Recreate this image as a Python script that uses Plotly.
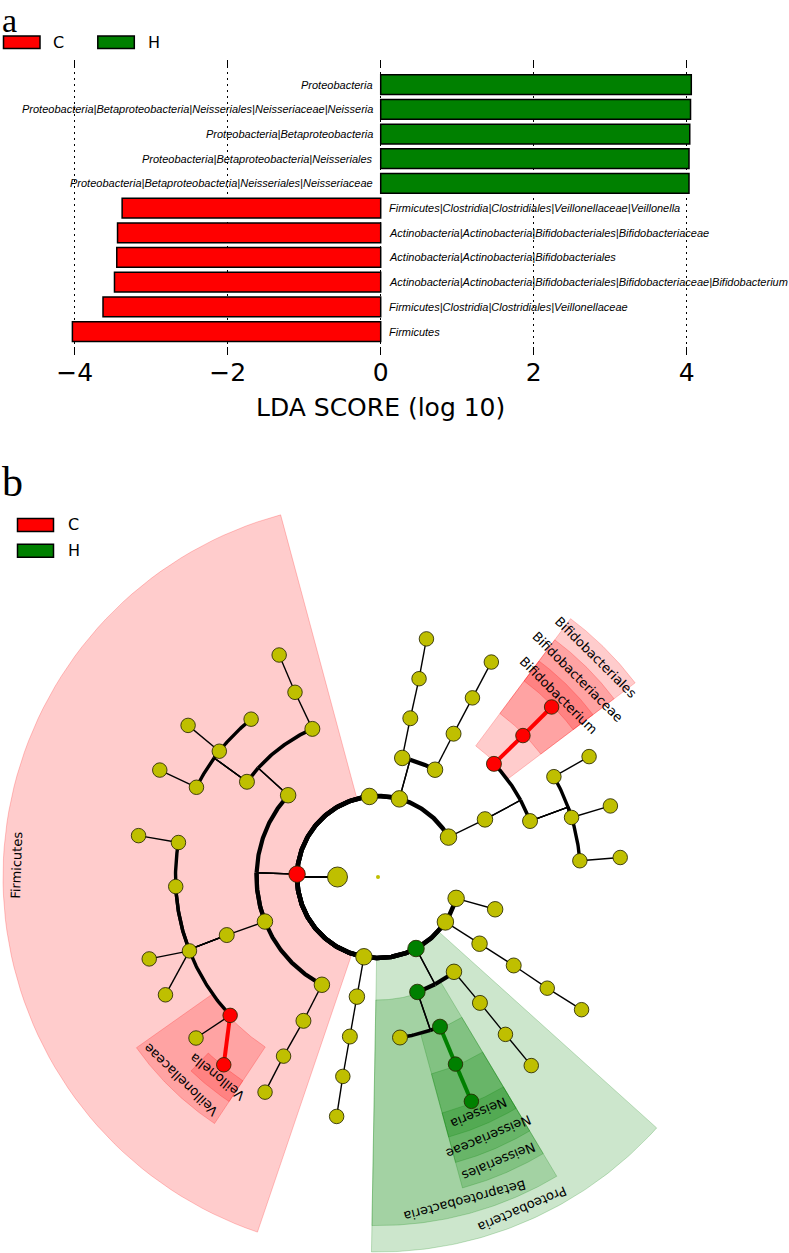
import numpy as np
import plotly.graph_objects as go

# ------------------------- panel a : LDA scores -------------------------
lda_taxa = [
    "Proteobacteria",
    "Proteobacteria|Betaproteobacteria|Neisseriales|Neisseriaceae|Neisseria",
    "Proteobacteria|Betaproteobacteria",
    "Proteobacteria|Betaproteobacteria|Neisseriales",
    "Proteobacteria|Betaproteobacteria|Neisseriales|Neisseriaceae",
    "Firmicutes|Clostridia|Clostridiales|Veillonellaceae|Veillonella",
    "Actinobacteria|Actinobacteria|Bifidobacteriales|Bifidobacteriaceae",
    "Actinobacteria|Actinobacteria|Bifidobacteriales",
    "Actinobacteria|Actinobacteria|Bifidobacteriales|Bifidobacteriaceae|Bifidobacterium",
    "Firmicutes|Clostridia|Clostridiales|Veillonellaceae",
    "Firmicutes",
]
lda_scores = [4.06, 4.05, 4.04, 4.03, 4.03, -3.38, -3.44, -3.45, -3.48, -3.63, -4.03]
lda_class = ["H", "H", "H", "H", "H", "C", "C", "C", "C", "C", "C"]
lda_ticks = [-4, -2, 0, 2, 4]
groups = ["C", "H"]

# ------------------------- panel b : cladogram -------------------------
# one entry per node: name, parent index, taxonomic level, angle (deg), enriched class
node_name = [
    "root", "Bacteria",
    "Actinobacteria", "", "", "Firmicutes", "", "Proteobacteria", "", "",
    "Actinobacteria", "", "", "", "Clostridia", "", "", "Betaproteobacteria", "", "", "",
    "Bifidobacteriales", "", "", "", "", "", "Clostridiales", "", "", "Neisseriales", "", "", "",
    "Bifidobacteriaceae", "", "", "", "", "", "", "", "", "", "", "", "", "Veillonellaceae",
    "", "", "Neisseriaceae", "", "",
    "Bifidobacterium", "", "", "", "", "", "", "", "", "", "", "", "", "Veillonella",
    "", "", "Neisseria", "", "",
]
node_parent = [
    -1, 0,
    1, 1, 1, 1, 1, 1, 1, 1,
    2, 3, 3, 5, 5, 5, 6, 7, 7, 8, 9,
    10, 10, 11, 12, 13, 13, 14, 15, 16, 17, 17, 18, 19,
    21, 22, 22, 22, 23, 24, 25, 26, 26, 26, 27, 27, 27, 27, 28, 29, 30, 32, 33,
    34, 35, 36, 37, 38, 39, 40, 42, 43, 44, 46, 46, 47, 47, 48, 49, 50, 51, 52,
]
node_level = [
    0, 1,
    2, 2, 2, 2, 2, 2, 2, 2,
    3, 3, 3, 3, 3, 3, 3, 3, 3, 3, 3,
    4, 4, 4, 4, 4, 4, 4, 4, 4, 4, 4, 4, 4,
    5, 5, 5, 5, 5, 5, 5, 5, 5, 5, 5, 5, 5, 5, 5, 5, 5, 5, 5,
    6, 6, 6, 6, 6, 6, 6, 6, 6, 6, 6, 6, 6, 6, 6, 6, 6, 6, 6,
]
node_angle = [
    0.0, 180.0,
    29.5, 74.7, 96.1, 178.0, 260.0, 298.0, 326.3, 344.7,
    28.3, 78.5, 62.0, 137.7, 201.5, 242.5, 260.0, 288.9, 308.7, 326.7, 344.6,
    44.3, 20.2, 78.5, 62.2, 113.9, 144.0, 201.0, 242.6, 260.0, 292.5, 277.8, 309.0, 326.9,
    44.3, 29.7, 17.1, 4.6, 78.3, 62.2, 114.2, 128.8, 141.6, 153.7, 170.2, 182.7, 201.4,
    223.1, 242.2, 260.0, 292.5, 309.0, 326.7,
    44.4, 29.7, 17.0, 4.6, 78.5, 62.2, 114.0, 141.4, 153.9, 170.2, 199.7, 209.0, 221.5,
    230.6, 242.3, 260.2, 292.6, 309.1, 326.9,
]
node_class = [
    "", "",
    "", "", "", "C", "", "H", "", "",
    "", "", "", "", "", "", "", "H", "", "", "",
    "C", "", "", "", "", "", "", "", "", "H", "", "", "",
    "C", "", "", "", "", "", "", "", "", "", "", "", "", "C", "", "", "H", "", "",
    "C", "", "", "", "", "", "", "", "", "", "", "", "", "C", "", "", "H", "", "",
]

# ------------------------- styles -------------------------
COL = {"C": "#FF0000", "H": "#008000", "": "#BFBF00"}
RGBA = {"C": "255,0,0", "H": "0,128,0"}
R_STEP = 40.5                 # radius of one taxonomic level (px)
BAND = 26.4                   # width of one label band
R_LEAF = 6 * R_STEP
W, H = 789, 1253
CX, CY = 378.0, 877.0         # centre of the cladogram in the page
CLAD_TOP = 460.0


def px(x):
    return x / W


def py(y):
    return 1 - y / H


def pol(r, a):
    t = np.radians(a)
    return r * np.cos(t), r * np.sin(t)


fig = go.Figure()

# ------------------------- panel a traces -------------------------
fig.add_trace(go.Bar(
    x=lda_scores, y=lda_taxa, orientation="h", width=0.8,
    marker=dict(color=[COL[c] for c in lda_class], line=dict(color="black", width=1.5)),
    xaxis="x", yaxis="y", showlegend=False, hoverinfo="x+y",
))

annotations = []
for t, s in zip(lda_taxa, lda_scores):
    annotations.append(dict(
        x=0, y=t, xref="x", yref="y", text=t, showarrow=False,
        xanchor="right" if s > 0 else "left", xshift=-6 if s > 0 else 6,
        font=dict(family="Liberation Sans", size=11, color="black", style="italic"),
    ))

# ------------------------- panel b: tree -------------------------
n = len(node_name)
children = [[] for _ in range(n)]
for i, p in enumerate(node_parent):
    if p >= 0:
        children[p].append(i)

radius = [lv * R_STEP for lv in node_level]


def leaves_of(i):
    if not children[i]:
        return [node_angle[i]]
    out = []
    for c in children[i]:
        out += leaves_of(c)
    return out


all_leaves = sorted(node_angle[i] for i in range(1, n) if not children[i])

# clade wedges of the biomarkers
wedges = []
for i in range(n):
    if node_class[i]:
        lv = leaves_of(i)
        lo, hi = min(lv), max(lv)
        k_lo, k_hi = all_leaves.index(lo), all_leaves.index(hi)
        prev = all_leaves[k_lo - 1] - (360 if k_lo == 0 else 0)
        nxt = all_leaves[(k_hi + 1) % len(all_leaves)] + (360 if k_hi == len(all_leaves) - 1 else 0)
        a0, a1 = (prev + lo) / 2, (hi + nxt) / 2
        r_in = radius[i] + 1.5
        r_out = R_LEAF + BAND * (7 - node_level[i])
        wedges.append((node_level[i], i, a0, a1, r_in, r_out))
wedges.sort()

for lvl, i, a0, a1, r_in, r_out in wedges:
    th = np.linspace(a0, a1, 80)
    xo, yo = pol(r_out, th)
    xi, yi = pol(r_in, th[::-1])
    xs = np.concatenate([xo, xi, xo[:1]])
    ys = np.concatenate([yo, yi, yo[:1]])
    rgb = RGBA[node_class[i]]
    fig.add_trace(go.Scatter(
        x=xs, y=ys, mode="lines", fill="toself",
        fillcolor=f"rgba({rgb},0.2)", line=dict(color=f"rgba({rgb},0.22)", width=1),
        xaxis="x2", yaxis="y2", showlegend=False, hoverinfo="skip",
    ))
    mid = (a0 + a1) / 2
    lx, ly = pol(r_out - BAND / 2, mid)
    ang = 90 - mid
    while ang > 180:
        ang -= 360
    while ang <= -180:
        ang += 360
    annotations.append(dict(
        x=lx, y=ly, xref="x2", yref="y2", text=node_name[i], showarrow=False,
        textangle=ang, xanchor="center", yanchor="middle",
        font=dict(family="DejaVu Sans", size=13, color="black"),
    ))

# edges
ARC_W = {2: 4.5, 3: 4.2, 4: 3.6, 5: 3.4}
segs = {}


def add_seg(key, xs, ys):
    d = segs.setdefault(key, ([], []))
    d[0].extend(list(xs) + [None])
    d[1].extend(list(ys) + [None])


for c in range(n):
    p = node_parent[c]
    if p <= 0:
        continue
    rp, ap, rc, ac = radius[p], node_angle[p], radius[c], node_angle[c]
    if node_level[c] == 6 or len(children[p]) == 1:
        x0, y0 = pol(rp, ap)
        x1, y1 = pol(rc, ac)
        if node_class[c] and node_class[c] == node_class[p]:
            key = (COL[node_class[c]], 4.0)
        else:
            key = ("black", 1.4)
        add_seg(key, [x0, x1], [y0, y1])
    else:
        x0, y0 = pol(rp, ap)
        x1, y1 = pol(rc, ap)
        add_seg(("black", 1.4), [x0, x1], [y0, y1])
        th = np.linspace(ap, ac, max(3, int(abs(ac - ap) * 2)))
        xa, ya = pol(rc, th)
        add_seg(("black", ARC_W[node_level[c]]), xa, ya)

for (col, wd), (xs, ys) in sorted(segs.items(), key=lambda kv: kv[0][1], reverse=True):
    fig.add_trace(go.Scatter(
        x=xs, y=ys, mode="lines", line=dict(color=col, width=wd),
        xaxis="x2", yaxis="y2", showlegend=False, hoverinfo="skip",
    ))

# nodes
SIZE = {0: 4, 1: 20, 2: 16.5, 3: 15.5, 4: 15, 5: 14.5, 6: 14.5}
nx, ny = pol(np.array(radius), np.array(node_angle))
fig.add_trace(go.Scatter(
    x=nx, y=ny, mode="markers",
    marker=dict(
        color=[COL[c] for c in node_class], opacity=1,
        size=[SIZE[lv] for lv in node_level],
        line=dict(color=["rgba(0,0,0,0)"] + ["rgba(40,40,0,0.85)"] * (n - 1), width=1),
    ),
    text=[nm for nm in node_name], hoverinfo="text",
    xaxis="x2", yaxis="y2", showlegend=False,
))

# ------------------------- legends & panel letters -------------------------
shapes = []


def legend_box(x0, y0, x1, y1, col):
    shapes.append(dict(type="rect", xref="paper", yref="paper",
                       x0=px(x0), x1=px(x1), y0=py(y1), y1=py(y0),
                       fillcolor=col, line=dict(color="black", width=1.5)))


def legend_text(x, y, t):
    annotations.append(dict(x=px(x), y=py(y), xref="paper", yref="paper", text=t,
                            showarrow=False, xanchor="left", yanchor="middle",
                            font=dict(family="DejaVu Sans", size=16, color="black")))


# panel a legend (horizontal)
for k, g in enumerate(groups):
    x0 = 3.5 + k * 94.3
    legend_box(x0, 36, x0 + 36.5, 48.5, COL[g])
    legend_text(x0 + 48, 42.5, g)
# panel b legend (vertical)
for k, g in enumerate(groups):
    y0 = 518.5 + k * 25.7
    legend_box(17.5, y0, 53.5, y0 + 13, COL[g])
    legend_text(66, y0 + 6.5, g)

annotations.append(dict(x=px(0), y=1, xref="paper", yref="paper", text="a",
                        showarrow=False, xanchor="left", yanchor="top",
                        font=dict(family="Liberation Serif", size=34, color="black")))
annotations.append(dict(x=px(0), y=py(507), xref="paper", yref="paper", text="b",
                        showarrow=False, xanchor="left", yanchor="bottom",
                        font=dict(family="Liberation Serif", size=42, color="black")))
# x-axis title of panel a
annotations.append(dict(x=px(380.7), y=py(407), xref="paper", yref="paper",
                        text="LDA SCORE (log 10)", showarrow=False,
                        xanchor="center", yanchor="middle",
                        font=dict(family="DejaVu Sans", size=25, color="black")))

# ------------------------- layout -------------------------
zero_px, unit_px = 380.7, 76.5
fig.update_layout(
    width=W, height=H, margin=dict(l=0, r=0, t=0, b=0),
    paper_bgcolor="white", plot_bgcolor="rgba(0,0,0,0)",
    showlegend=False, shapes=shapes, annotations=annotations,
    xaxis=dict(
        domain=[0, 1], range=[-zero_px / unit_px, (W - zero_px) / unit_px],
        tickvals=lda_ticks, ticktext=[f"{v}".replace("-", "\u2212") for v in lda_ticks],
        ticks="inside", ticklen=8, tickwidth=1.2, tickcolor="black", mirror="ticks",
        showline=False, zeroline=False, showgrid=True, gridcolor="black",
        griddash="2px,4px", gridwidth=1, tickfont=dict(family="DejaVu Sans", size=25, color="black"),
        ticklabelstandoff=0, automargin=False, fixedrange=True,
    ),
    yaxis=dict(
        domain=[py(355), py(60)], type="category",
        categoryorder="array", categoryarray=list(reversed(lda_taxa)),
        range=[-0.95, 11.0], showticklabels=False, ticks="", showgrid=False,
        zeroline=False, showline=False, automargin=False, fixedrange=True,
    ),
    xaxis2=dict(domain=[0, 1], range=[-CX, W - CX], visible=False, anchor="y2"),
    yaxis2=dict(domain=[0, py(CLAD_TOP)], range=[-(H - CY), CY - CLAD_TOP],
                visible=False, anchor="x2"),
)

fig.write_html("out.html", config={"displayModeBar": False},
               post_script="document.body.style.margin='0px';")
